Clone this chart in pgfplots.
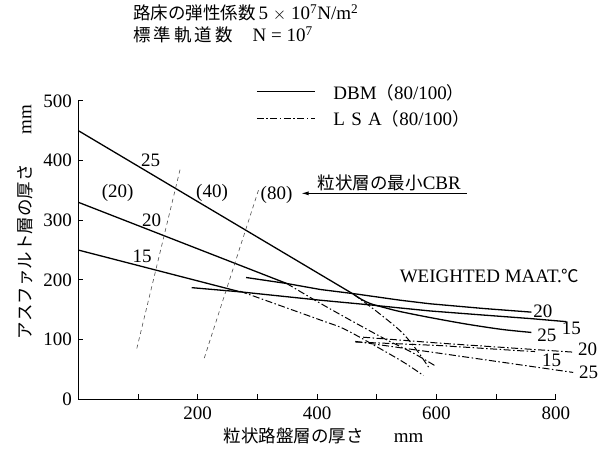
\documentclass[border=0pt]{standalone}
\usepackage{fontspec}
\setmainfont{Liberation Serif}
\newfontfamily\jp[Scale=0.92]{Noto Sans CJK JP}
\usepackage{pgfplots}
\pgfplotsset{compat=1.18}
\usetikzlibrary{arrows.meta}
\tikzset{
  dbm/.style={black, line width=1.3pt},
  lsa/.style={black, line width=1.0pt, dash pattern=on 7pt off 2.5pt on 1.5pt off 2.5pt},
  cbr/.style={black!70, line width=0.6pt, dash pattern=on 4pt off 3.5pt},
}
\begin{document}
\fontsize{19}{22}\selectfont
\begin{tikzpicture}[font=\fontsize{19}{22}\selectfont]
\useasboundingbox (-78.3pt,-57.7pt) rectangle (528.7pt,399.3pt);
\begin{axis}[
  scale only axis, width=477.6pt, height=298.5pt,
  xmin=0, xmax=800, ymin=0, ymax=500,
  axis lines=left, axis line style={-, line width=1.2pt},
  xtick={100,200,...,800}, xticklabels={,200,,400,,600,,800},
  ytick={0,100,...,500},
  tick align=inside, major tick length=5pt,
  tick style={line width=0.8pt, black},
  /pgf/number format/assume math mode=true,
  tick label style={font=\fontsize{19}{22}\selectfont},
  xticklabel style={yshift=-1pt},
  clip=false,
]
% DBM (solid)
\addplot[dbm] coordinates {(0,450) (461,176)};
\addplot[dbm, smooth] coordinates {(461,176) (475,167) (490,160) (515,153) (539,147) (589,137) (650,126) (710,117) (759,112)};
\addplot[dbm] coordinates {(0,330) (349,194)};
\addplot[dbm] coordinates {(281,204) (349,194) (405,184) (461,177) (539,166) (589,160) (680,152) (759,146)};
\addplot[dbm] coordinates {(0,250) (271,180)};
\addplot[dbm] coordinates {(190,187) (271,180) (405,166) (490,158) (539,153) (589,148) (680,141) (760,135) (818,130)};
% LSA (dash-dot)
\addplot[lsa, smooth] coordinates {(461,176) (500,147) (540,114) (565,85) (588,52)};
\addplot[lsa, smooth] coordinates {(349,194) (405,161) (455,133) (510,103) (560,78) (598,56)};
\addplot[lsa, smooth] coordinates {(271,181) (405,133) (445,118) (500,88) (545,62) (578,40)};
\addplot[lsa] coordinates {(464,97) (606,77) (829,45)};
\addplot[lsa] coordinates {(477,104) (606,94) (829,79)};
\addplot[lsa] coordinates {(464,96) (606,90) (745,81) (765,80)};
% CBR lines
\addplot[cbr] coordinates {(98,85) (171,387)};
\addplot[cbr] coordinates {(211,69) (302,351)};
% labels
\node at (axis cs:121,401) {25};
\node at (axis cs:123,300) {20};
\node at (axis cs:107,239) {15};
\node at (axis cs:66,346) {(20)};
\node at (axis cs:224,346) {(40)};
\node at (axis cs:332,343) {(80)};
\draw[line width=0.8pt, -{Latex[length=7pt,width=4pt]}] (axis cs:651,345) -- (axis cs:374,345);
\node at (axis cs:521,363) {{\jp 粒状層の最小}CBR};
\node at (axis cs:689,206) {WEIGHTED MAAT.{\jp ℃}};
\node at (axis cs:778,148) {20};
\node at (axis cs:826,119) {15};
\node at (axis cs:785,108) {25};
\node at (axis cs:853,83) {20};
\node at (axis cs:793,66) {15};
\node at (axis cs:855,45) {25};
% legend
\draw[dbm] (axis cs:299,515) -- (axis cs:397,515);
\draw[lsa] (axis cs:299,471) -- (axis cs:397,471);
\node[anchor=west, inner sep=0pt] at (axis cs:427,514) {DBM{\jp （}80/100{\jp ）}};
\node[anchor=west, inner sep=0pt] at (axis cs:427,469) {L\,\,S\,\,A{\jp （}80/100{\jp ）}};
% axis titles
\node[rotate=90] at (axis cs:-89,297) {{\jp アスファルト層の厚さ}\hspace{30pt}mm};
\node at (axis cs:411,-61.5) {{\jp 粒状路盤層の厚さ}\hspace{30pt}mm};
% top text
\node[anchor=west, inner sep=0pt] at (axis cs:91.6,647) {{\jp 路床の弾性係数}\,5 $\times$ 10\textsuperscript{7}N/m\textsuperscript{2}};
\node[anchor=west, inner sep=0pt] at (axis cs:91.6,610) {{\jp 標\hspace{3pt}準\hspace{3pt}軌\hspace{3pt}道\hspace{3pt}数}\hspace{20pt}N = 10\textsuperscript{7}};
\end{axis}
\end{tikzpicture}
\end{document}
